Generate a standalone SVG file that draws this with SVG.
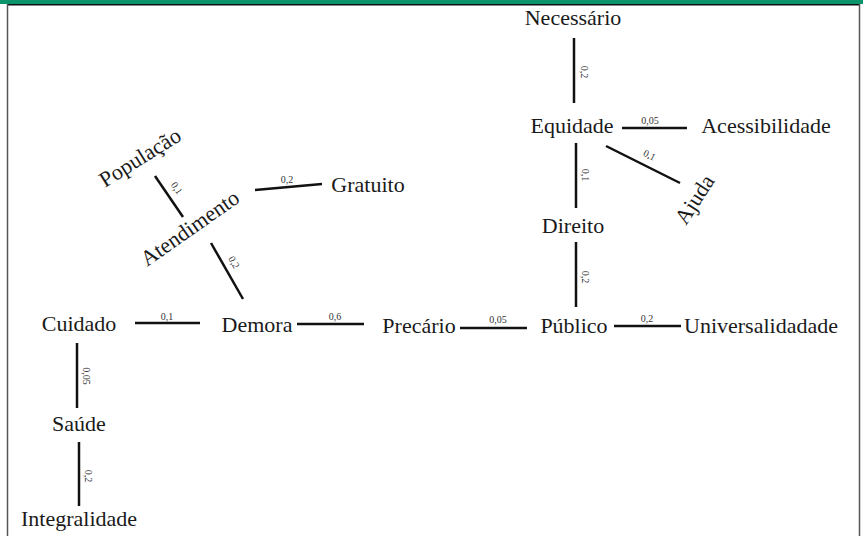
<svg xmlns="http://www.w3.org/2000/svg" width="863" height="536" viewBox="0 0 863 536">
<style>
.n{font-family:"Liberation Serif","Times New Roman",serif;font-size:22px;fill:#1a1a1a;text-anchor:middle}
.r{font-family:"Liberation Serif","Times New Roman",serif;font-size:22px;fill:#1a1a1a}
.w{font-family:"Liberation Serif","Times New Roman",serif;font-size:10px;fill:#333;text-anchor:middle}
.e{stroke:#111;stroke-width:2.5;fill:none}
</style>
<rect x="0" y="0" width="863" height="536" fill="#fff"/>
<rect x="0" y="0" width="863" height="4" fill="#0b936c"/>
<line x1="7" y1="4.7" x2="860" y2="4.7" stroke="#111" stroke-width="1.5"/>
<line x1="7.5" y1="4" x2="7.5" y2="536" stroke="#555" stroke-width="1.5"/>
<line x1="859.5" y1="4" x2="859.5" y2="536" stroke="#555" stroke-width="1.5"/>
<g id="connectors">
<line class="e" x1="574" y1="38" x2="574" y2="103"/>
<text class="w" transform="translate(581,72) rotate(90)">0,2</text>
<line class="e" x1="622" y1="128" x2="687" y2="128"/>
<text class="w" x="650" y="124">0,05</text>
<line class="e" x1="576" y1="143" x2="576" y2="208"/>
<text class="w" transform="translate(582,175) rotate(90)">0,1</text>
<line class="e" x1="606" y1="146" x2="680" y2="183"/>
<text class="w" transform="translate(648,158) rotate(27)">0,1</text>
<line class="e" x1="576" y1="242" x2="576" y2="307"/>
<text class="w" transform="translate(582,277) rotate(90)">0,2</text>
<line class="e" x1="614" y1="326" x2="681" y2="326"/>
<text class="w" x="647" y="322">0,2</text>
<line class="e" x1="460" y1="328" x2="527" y2="328"/>
<text class="w" x="498" y="323">0,05</text>
<line class="e" x1="297" y1="324" x2="364" y2="324"/>
<text class="w" x="335" y="320">0,6</text>
<line class="e" x1="135" y1="323" x2="200" y2="323"/>
<text class="w" x="167" y="320">0,1</text>
<line class="e" x1="77" y1="343" x2="77" y2="408"/>
<text class="w" transform="translate(83,376) rotate(90)">0,05</text>
<line class="e" x1="79" y1="442" x2="79" y2="506"/>
<text class="w" transform="translate(85,476) rotate(90)">0,2</text>
<line class="e" x1="155" y1="176" x2="183" y2="217"/>
<text class="w" transform="translate(174,190) rotate(56)">0,1</text>
<line class="e" x1="255" y1="190" x2="322" y2="184"/>
<text class="w" x="287" y="183">0,2</text>
<line class="e" x1="211" y1="243" x2="243" y2="299"/>
<text class="w" transform="translate(231,264) rotate(60)">0,2</text>
</g>
<g id="necessario"><text class="n" x="573" y="25">Necessário</text></g>
<g id="equidade"><text class="n" x="572" y="133">Equidade</text></g>
<g id="acessibilidade"><text class="n" x="766" y="133">Acessibilidade</text></g>
<g id="ajuda"><text class="r" transform="translate(686,226) rotate(-57)">Ajuda</text></g>
<g id="direito"><text class="n" x="573" y="233">Direito</text></g>
<g id="publico"><text class="n" x="574" y="333">Público</text></g>
<g id="universalidade"><text class="n" x="761" y="333">Universalidadade</text></g>
<g id="precario"><text class="n" x="419" y="333">Precário</text></g>
<g id="demora"><text class="n" x="257" y="332">Demora</text></g>
<g id="cuidado"><text class="n" x="79" y="331">Cuidado</text></g>
<g id="saude"><text class="n" x="79" y="431">Saúde</text></g>
<g id="integralidade"><text class="n" x="79" y="526">Integralidade</text></g>
<g id="gratuito"><text class="n" x="368" y="192">Gratuito</text></g>
<g id="populacao"><text class="r" transform="translate(105,188) rotate(-32)">População</text></g>
<g id="atendimento"><text class="r" transform="translate(147,267) rotate(-35)">Atendimento</text></g>
</svg>
